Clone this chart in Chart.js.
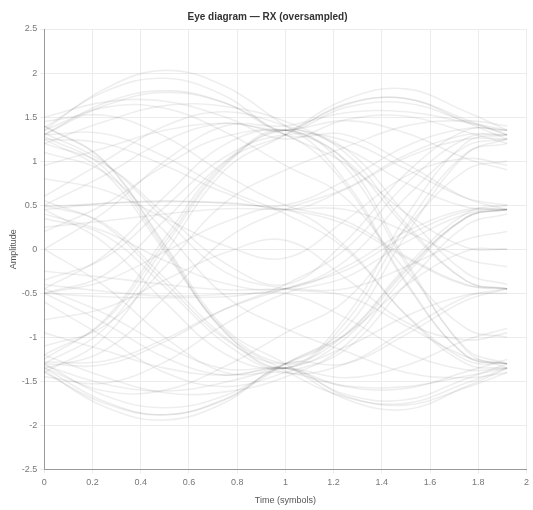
<!DOCTYPE html>
<html>
<head>
<meta charset="utf-8">
<script src="https://cdn.jsdelivr.net/npm/chart.js@4"></script>
<style>
  html, body { margin: 0; padding: 0; background: #fff; }
  #wrap { width: 533px; height: 510px; }
</style>
</head>
<body>
<div id="wrap"><canvas id="eyeChart"></canvas></div>
<script>
// sample instants (symbols) shared by every trace
var sampleTimes = [0, 0.25, 0.5, 0.75, 1.0, 1.25, 1.5, 1.75, 1.92];
var xTicks = [0, 0.2, 0.4, 0.6, 0.8, 1, 1.2, 1.4, 1.6, 1.8, 2];
var yTicks = [-2.5, -2, -1.5, -1, -0.5, 0, 0.5, 1, 1.5, 2, 2.5];

// amplitude of each overlaid trace
var traces = [
  [1.30, 1.63, 1.78, 1.66, 1.35, 1.61, 1.66, 1.45, 1.30],
  [1.38, 1.79, 1.94, 1.74, 1.30, 1.30, 0.97, 0.58, 0.45],
  [1.25, 1.20, 0.95, 0.64, 0.45, 0.68, 1.04, 1.25, 1.25],
  [1.32, 0.98, 0.34, -0.26, -0.45, -0.53, -0.87, -1.22, -1.30],
  [1.40, 0.99, 0.03, -0.94, -1.35, -0.83, 0.26, 1.09, 1.20],
  [1.28, 0.92, 0.00, -0.95, -1.38, -1.68, -1.75, -1.52, -1.35],
  [0.50, 0.84, 1.23, 1.43, 1.35, 1.65, 1.71, 1.47, 1.30],
  [0.45, 0.52, 0.55, 0.52, 0.45, 0.28, -0.10, -0.41, -0.45],
  [0.40, 0.20, -0.13, -0.39, -0.45, -0.20, 0.20, 0.45, 0.45],
  [0.55, 0.27, -0.38, -1.02, -1.30, -0.97, -0.23, 0.36, 0.45],
  [-0.45, -0.07, 0.60, 1.19, 1.35, 1.01, 0.25, -0.36, -0.45],
  [-0.50, -0.36, -0.03, 0.31, 0.45, 0.03, -0.75, -1.30, -1.35],
  [-0.40, -0.48, -0.53, -0.51, -0.45, -0.13, 0.59, 1.17, 1.25],
  [-0.45, -0.73, -1.10, -1.36, -1.35, -1.56, -1.58, -1.39, -1.25],
  [-1.30, -0.90, 0.03, 0.95, 1.35, 0.93, -0.17, -1.13, -1.30],
  [-1.35, -1.15, -0.55, 0.11, 0.45, 0.69, 1.07, 1.30, 1.30],
  [-1.28, -1.27, -1.02, -0.68, -0.45, -0.24, 0.15, 0.43, 0.45],
  [-1.40, -1.75, -1.88, -1.71, -1.35, -1.67, -1.77, -1.57, -1.40],
  [1.45, 1.52, 1.28, 0.85, 0.50, 0.32, -0.08, -0.40, -0.45],
  [1.20, 0.96, 0.40, -0.16, -0.40, 0.09, 0.86, 1.35, 1.35],
  [-1.25, -0.80, 0.13, 0.99, 1.30, 1.64, 1.71, 1.44, 1.25],
  [-1.32, -1.53, -1.61, -1.51, -1.30, -0.96, -0.20, 0.41, 0.50],
  [0.60, 1.00, 1.40, 1.56, 1.40, 1.14, 0.40, -0.27, -0.40],
  [-0.60, -1.00, -1.40, -1.56, -1.40, -1.14, -0.40, 0.27, 0.40],
  [1.35, 1.82, 2.03, 1.85, 1.40, 1.00, -0.13, -1.15, -1.35],
  [-1.35, -1.73, -1.88, -1.70, -1.30, -0.90, 0.16, 1.08, 1.25],
  [0.35, 0.16, -0.43, -1.07, -1.40, -1.30, -0.92, -0.54, -0.45],
  [-0.35, -0.10, 0.48, 1.05, 1.30, 1.23, 0.91, 0.58, 0.50],
  [1.30, 1.31, 1.05, 0.68, 0.40, 0.00, -0.74, -1.26, -1.30],
  [-1.30, -1.31, -1.05, -0.68, -0.40, 0.00, 0.74, 1.26, 1.30],
  [1.25, 0.87, -0.03, -0.92, -1.30, -1.11, -0.76, -0.52, -0.50],
  [-1.20, -0.82, 0.08, 0.97, 1.35, 1.14, 0.75, 0.48, 0.45],
  [1.50, 1.67, 1.68, 1.50, 1.25, 1.47, 1.51, 1.33, 1.20],
  [0.48, 0.52, 0.54, 0.53, 0.50, 0.78, 1.17, 1.37, 1.35],
  [-0.50, -0.54, -0.55, -0.54, -0.50, -0.78, -1.17, -1.37, -1.35],
  [0.20, 0.51, 0.95, 1.28, 1.30, 0.73, -0.39, -1.21, -1.30],
  [-1.38, -1.79, -1.94, -1.74, -1.30, -1.30, -0.97, -0.58, -0.45],
  [-0.50, -0.84, -1.23, -1.43, -1.35, -1.65, -1.71, -1.47, -1.30],
  [-1.45, -1.52, -1.28, -0.85, -0.50, -0.32, 0.08, 0.40, 0.45],
  [0.45, 0.07, -0.60, -1.19, -1.35, -1.01, -0.25, 0.36, 0.45],
  [0.95, 1.15, 1.35, 1.43, 1.35, 1.46, 1.32, 1.03, 0.90],
  [-0.95, -1.15, -1.35, -1.43, -1.35, -1.46, -1.32, -1.03, -0.90],
  [0.00, 0.42, 1.00, 1.40, 1.40, 1.55, 1.56, 1.44, 1.35],
  [0.00, -0.42, -1.00, -1.40, -1.40, -1.55, -1.56, -1.44, -1.35],
  [1.10, 0.87, 0.20, -0.53, -0.90, -1.16, -1.40, -1.46, -1.40],
  [-1.10, -0.87, -0.20, 0.53, 0.90, 1.16, 1.40, 1.46, 1.40],
  [1.35, 1.61, 1.60, 1.33, 0.95, 0.58, -0.24, -0.90, -1.00],
  [-1.35, -1.61, -1.60, -1.33, -0.95, -0.58, 0.24, 0.90, 1.00],
  [0.80, 0.67, 0.35, 0.04, -0.10, 0.33, 0.83, 1.03, 0.95],
  [-0.80, -0.67, -0.35, -0.04, 0.10, -0.33, -0.83, -1.03, -0.95],
  [1.30, 1.66, 1.80, 1.66, 1.30, 0.97, 0.41, 0.02, 0.00],
  [-1.30, -1.66, -1.80, -1.66, -1.30, -0.97, -0.41, -0.02, 0.00],
  [0.25, 0.32, 0.40, 0.46, 0.45, 0.45, 0.20, -0.11, -0.20],
  [-0.25, -0.32, -0.40, -0.46, -0.45, -0.45, -0.20, 0.11, 0.20],
  [1.40, 1.00, 0.05, -0.90, -1.30, -1.70, -1.82, -1.56, -1.35],
  [-1.40, -1.00, -0.05, 0.90, 1.30, 1.70, 1.82, 1.56, 1.35],
  [0.50, 0.29, -0.33, -1.00, -1.35, -0.77, 0.37, 1.21, 1.30],
  [-0.50, -0.29, 0.33, 1.00, 1.35, 0.77, -0.37, -1.21, -1.30],
  [1.20, 1.45, 1.63, 1.62, 1.45, 1.09, 0.29, -0.36, -0.45],
  [-1.20, -1.45, -1.63, -1.62, -1.45, -1.09, -0.29, 0.36, 0.45]
];

var datasets = [];
for (var i = 0; i < traces.length; i++) {
  var pts = [];
  for (var j = 0; j < sampleTimes.length; j++) {
    pts.push({ x: sampleTimes[j], y: traces[i][j] });
  }
  datasets.push({
    data: pts,
    borderColor: 'rgba(0,0,0,0.065)',
    borderWidth: 1.6,
    pointRadius: 0,
    tension: 0.4,
    fill: false
  });
}

function fmtTick(v) {
  return String(Math.round(v * 10) / 10);
}

var font = "'Liberation Sans', Arial, sans-serif";
Chart.defaults.font.family = font;
Chart.defaults.color = '#666';

new Chart(document.getElementById('eyeChart'), {
  type: 'line',
  data: { datasets: datasets },
  options: {
    responsive: true,
    maintainAspectRatio: false,
    animation: false,
    layout: { padding: { top: 4, right: 2, bottom: 0, left: 4 } },
    plugins: {
      legend: { display: false },
      tooltip: { enabled: false },
      title: {
        display: true,
        text: 'Eye diagram \u2014 RX (oversampled)',
        color: '#333',
        font: { size: 10, weight: 'bold' },
        padding: { top: 7, bottom: 6 }
      }
    },
    scales: {
      x: {
        type: 'linear',
        min: 0,
        max: 2,
        afterBuildTicks: function (axis) {
          axis.ticks = xTicks.map(function (v) { return { value: v }; });
        },
        ticks: { font: { size: 9 }, color: '#777', maxRotation: 0, padding: 4, callback: fmtTick },
        grid: { color: '#ececec', tickLength: 4 },
        border: { color: '#999' },
        title: { display: true, text: 'Time (symbols)', color: '#555', font: { size: 9 }, padding: { top: 3 } }
      },
      y: {
        type: 'linear',
        min: -2.5,
        max: 2.5,
        afterBuildTicks: function (axis) {
          axis.ticks = yTicks.map(function (v) { return { value: v }; });
        },
        ticks: { font: { size: 9 }, color: '#777', callback: fmtTick },
        grid: { color: '#ececec', tickLength: 4 },
        border: { color: '#999' },
        title: { display: true, text: 'Amplitude', color: '#555', font: { size: 9 }, padding: { bottom: 0 } }
      }
    }
  }
});
</script>
</body>
</html>
